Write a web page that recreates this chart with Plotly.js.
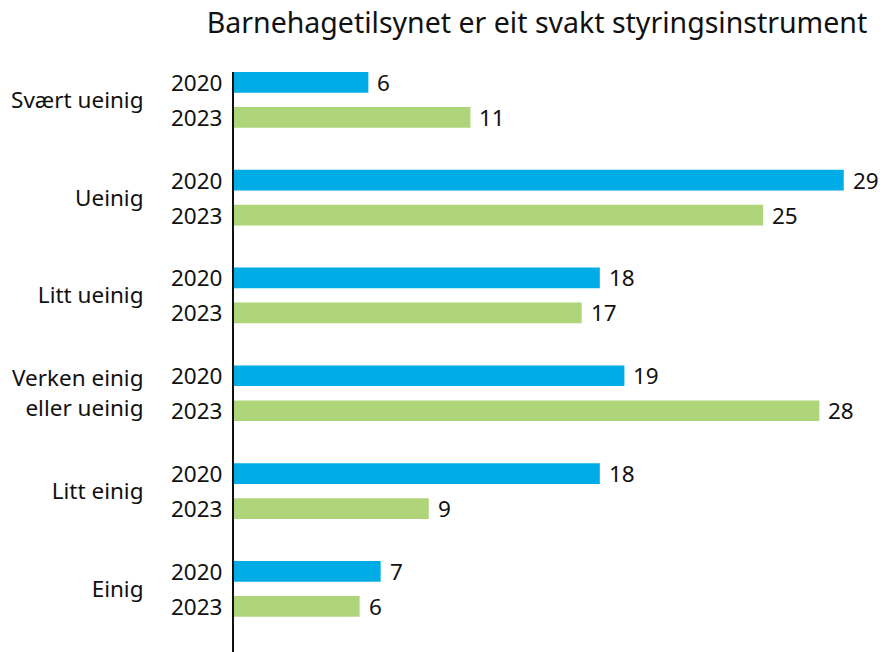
<!DOCTYPE html>
<html>
<head>
<meta charset="utf-8">
<script src="https://cdn.plot.ly/plotly-3.0.1.min.js"></script>
<style>
  html, body { margin: 0; padding: 0; background: #fff; }
  #chart { width: 895px; height: 652px; }
</style>
</head>
<body>
<div id="chart"></div>
<script>
const categories = ["Svært ueinig", "Ueinig", "Litt ueinig", "Verken einig<br>eller ueinig", "Litt einig", "Einig"];
const seriesNames = ["2020", "2023"];
const values2020 = [6.45, 29.27, 17.56, 18.74, 17.56, 7.04];
const values2023 = [11.35, 25.4, 16.69, 28.1, 9.35, 6.03];
const labels2020 = ["6", "29", "18", "19", "18", "7"];
const labels2023 = ["11", "25", "17", "28", "9", "6"];
const titleText = "Barnehagetilsynet er eit svakt styringsinstrument";

const FONT = "Noto Sans, Open Sans, sans-serif";
const TXT = "#111111";
const OFF = 0.179;
const FS = 22.5;

const traces = [
  { type: "bar", orientation: "h", name: seriesNames[0], y: categories, x: values2020,
    marker: { color: "#00ACE6" }, hoverinfo: "skip" },
  { type: "bar", orientation: "h", name: seriesNames[1], y: categories, x: values2023,
    marker: { color: "#AFD57A" }, hoverinfo: "skip" }
];

const annotations = [];
categories.forEach((c, i) => {
  [[labels2020, values2020, -OFF, seriesNames[0]], [labels2023, values2023, OFF, seriesNames[1]]].forEach(([lab, val, off, yr]) => {
    annotations.push({ xref: "x", yref: "y", x: val[i], y: i + off, text: lab[i],
      xanchor: "left", yanchor: "middle", xshift: 7, showarrow: false,
      font: { family: FONT, size: FS, color: TXT } });
    annotations.push({ xref: "paper", yref: "y", x: 0, y: i + off, text: yr,
      xanchor: "right", yanchor: "middle", xshift: -10, showarrow: false,
      font: { family: FONT, size: FS, color: TXT } });
  });
});

const layout = {
  width: 895, height: 652,
  margin: { l: 234, r: 0, t: 72, b: 0 },
  paper_bgcolor: "#ffffff", plot_bgcolor: "#ffffff",
  showlegend: false,
  barmode: "group", bargap: 0.284, bargroupgap: 0.409,
  title: { text: titleText, font: { family: FONT, size: 28.5, color: TXT },
    xref: "container", x: 0.6, xanchor: "center", yref: "container", y: 0.965, yanchor: "middle" },
  xaxis: { range: [0, 31.73], showgrid: false, zeroline: false, showline: false,
    showticklabels: false, ticks: "", fixedrange: true },
  yaxis: { type: "category", range: [5.646, -0.285], showgrid: false, zeroline: false,
    showline: true, linecolor: "#111111", linewidth: 2, ticks: "",
    ticklabelstandoff: 84,
    tickfont: { family: FONT, size: FS, color: TXT }, fixedrange: true },
  annotations: annotations
};

Plotly.newPlot("chart", traces, layout, { displayModeBar: false, staticPlot: true });
</script>
</body>
</html>
